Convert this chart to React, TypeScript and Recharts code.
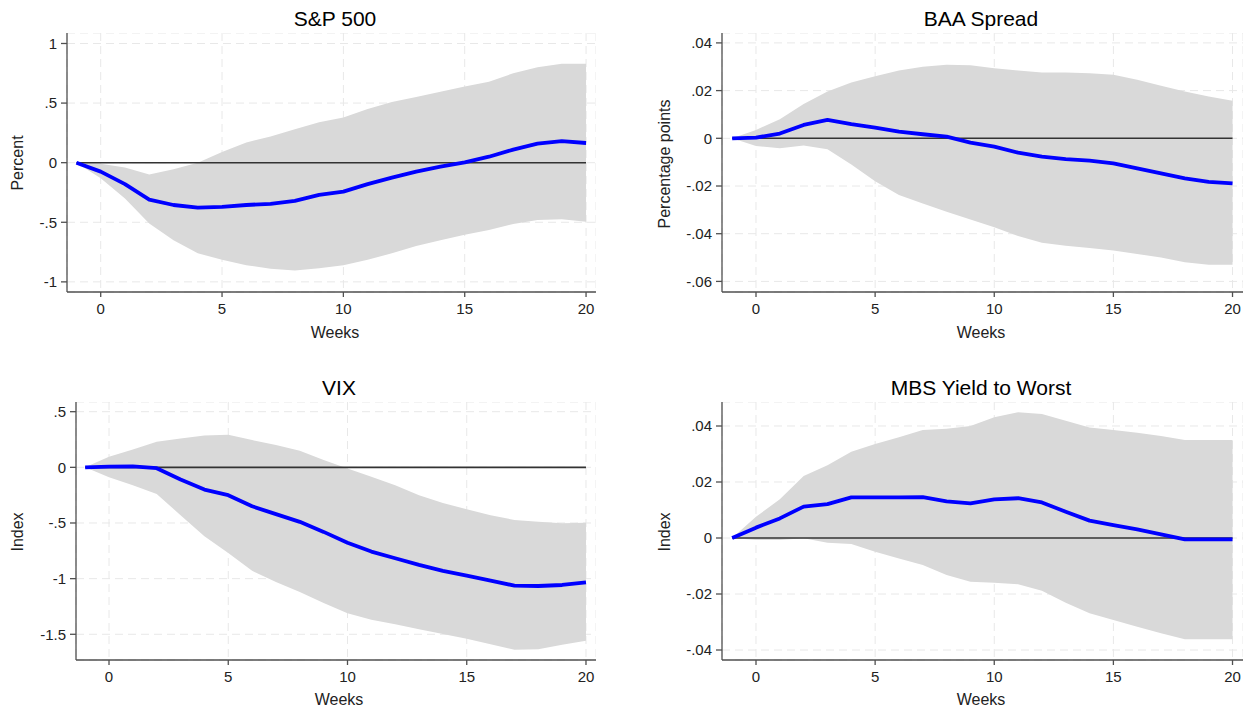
import {
  ComposedChart,
  Area,
  Line,
  XAxis,
  YAxis,
  CartesianGrid,
  ReferenceLine,
} from 'recharts';

const WEEKS = [-1, 0, 1, 2, 3, 4, 5, 6, 7, 8, 9, 10, 11, 12, 13, 14, 15, 16, 17, 18, 19, 20];
const WEEK_TICKS = [0, 5, 10, 15, 20];

const SP500_IRF = [0, -0.075, -0.18, -0.31, -0.355, -0.377, -0.37, -0.355, -0.345, -0.32, -0.27, -0.243, -0.18, -0.126, -0.075, -0.034, 0.003, 0.05, 0.11, 0.16, 0.18, 0.165];
const SP500_HI = [0, -0.01, -0.04, -0.1, -0.055, 0.0, 0.09, 0.17, 0.22, 0.28, 0.34, 0.38, 0.45, 0.51, 0.55, 0.595, 0.64, 0.68, 0.75, 0.8, 0.83, 0.83];
const SP500_LO = [0, -0.13, -0.3, -0.51, -0.65, -0.76, -0.815, -0.86, -0.89, -0.905, -0.885, -0.86, -0.815, -0.76, -0.7, -0.65, -0.605, -0.565, -0.515, -0.48, -0.475, -0.495];
const SP500_TICKS = [-1, -0.5, 0, 0.5, 1];

const BAA_IRF = [0, 0.0003, 0.002, 0.0056, 0.0077, 0.0059, 0.0045, 0.0028, 0.0017, 0.0007, -0.0018, -0.0035, -0.006, -0.0077, -0.0087, -0.0094, -0.0105, -0.0126, -0.0147, -0.0168, -0.0183, -0.0189];
const BAA_HI = [0, 0.0035, 0.008, 0.0144, 0.0196, 0.0234, 0.026, 0.0284, 0.03, 0.0308, 0.0306, 0.0294, 0.0284, 0.0276, 0.0276, 0.0273, 0.0266, 0.0245, 0.022, 0.0196, 0.0175, 0.0157];
const BAA_LO = [0, -0.0032, -0.0042, -0.003, -0.0046, -0.011, -0.018, -0.0238, -0.0273, -0.0308, -0.034, -0.0373, -0.041, -0.0438, -0.045, -0.046, -0.047, -0.0485, -0.05, -0.052, -0.053, -0.053];
const BAA_TICKS = [-0.06, -0.04, -0.02, 0, 0.02, 0.04];

const VIX_IRF = [0, 0.006, 0.009, -0.008, -0.11, -0.2, -0.25, -0.35, -0.42, -0.49, -0.58, -0.677, -0.757, -0.817, -0.877, -0.93, -0.973, -1.018, -1.063, -1.066, -1.057, -1.033];
const VIX_HI = [0, 0.096, 0.16, 0.23, 0.26, 0.287, 0.293, 0.245, 0.2, 0.15, 0.066, -0.01, -0.084, -0.16, -0.25, -0.32, -0.377, -0.43, -0.473, -0.488, -0.503, -0.497];
const VIX_LO = [0, -0.09, -0.16, -0.24, -0.43, -0.62, -0.77, -0.93, -1.03, -1.12, -1.22, -1.31, -1.37, -1.41, -1.455, -1.497, -1.54, -1.59, -1.64, -1.635, -1.595, -1.557];
const VIX_TICKS = [-1.5, -1, -0.5, 0, 0.5];

const MBS_IRF = [0, 0.0037, 0.007, 0.0112, 0.0121, 0.0145, 0.0145, 0.0145, 0.0146, 0.0131, 0.0124, 0.0138, 0.0142, 0.0127, 0.0094, 0.0062, 0.0046, 0.0031, 0.0013, -0.0005, -0.0005, -0.0005];
const MBS_HI = [0, 0.0076, 0.0138, 0.0221, 0.026, 0.0308, 0.0336, 0.036, 0.0386, 0.039, 0.04, 0.0431, 0.0449, 0.0443, 0.0419, 0.0395, 0.0386, 0.0376, 0.0364, 0.035, 0.035, 0.035];
const MBS_LO = [0, -0.0007, -0.0007, -0.0001, -0.0017, -0.0021, -0.0049, -0.0073, -0.0096, -0.0132, -0.0156, -0.016, -0.0165, -0.0188, -0.0231, -0.0269, -0.0293, -0.0317, -0.034, -0.0362, -0.0362, -0.0362];
const MBS_TICKS = [-0.04, -0.02, 0, 0.02, 0.04];

const FONT = '"Liberation Sans", Arial, sans-serif';
const AXIS_COLOR = '#505050';

// stata style labels: .5, -.02 etc
const stataFmt = (v: number) => String(v).replace(/^(-?)0\./, '$1.');

const buildRows = (irf: number[], lo: number[], hi: number[]) =>
  WEEKS.map((w, i) => ({ week: w, irf: irf[i], band: [lo[i], hi[i]] }));

interface PanelProps {
  left: number;
  top: number;
  width: number;
  height: number;
  yAxisWidth: number;
  xDomain: [number, number];
  yDomain: [number, number];
  yTicks: number[];
  irf: number[];
  lo: number[];
  hi: number[];
}

const Panel = ({ left, top, width, height, yAxisWidth, xDomain, yDomain, yTicks, irf, lo, hi }: PanelProps) => {
  const rows = buildRows(irf, lo, hi);
  return (
    <div style={{ position: 'absolute', left, top }}>
      <ComposedChart width={width} height={height} data={rows} margin={{ top: 0, right: 0, bottom: 0, left: 0 }}>
        <CartesianGrid stroke="#e8e8e8" strokeDasharray="8 5" />
        <XAxis
          dataKey="week"
          type="number"
          domain={xDomain}
          ticks={WEEK_TICKS}
          allowDataOverflow
          height={40}
          tickSize={5}
          tickMargin={6}
          stroke={AXIS_COLOR}
          strokeWidth={1.3}
          tick={{ fill: '#222', fontSize: 15, fontFamily: FONT }}
        />
        <YAxis
          type="number"
          domain={yDomain}
          ticks={yTicks}
          allowDataOverflow
          width={yAxisWidth}
          tickSize={6}
          tickMargin={4}
          tickFormatter={stataFmt}
          stroke={AXIS_COLOR}
          strokeWidth={1.3}
          tick={{ fill: '#222', fontSize: 15, fontFamily: FONT }}
        />
        <Area dataKey="band" type="linear" fill="#d9d9d9" fillOpacity={1} stroke="none" isAnimationActive={false} />
        <ReferenceLine
          segment={[{ x: -1, y: 0 }, { x: 20, y: 0 }]}
          stroke="#333"
          strokeWidth={1.6}
        />
        <Line
          dataKey="irf"
          type="linear"
          stroke="#0000ff"
          strokeWidth={3.8}
          strokeLinejoin="round"
          dot={false}
          isAnimationActive={false}
        />
      </ComposedChart>
    </div>
  );
};

export default function App() {
  return (
    <div style={{ position: 'absolute', left: 0, top: 0, width: 1249, height: 711, background: '#fff', fontFamily: FONT }}>
      <Panel
        left={0}
        top={33}
        width={596}
        height={299}
        yAxisWidth={67}
        xDomain={[-1.389, 20.41]}
        yDomain={[-1.085, 1.088]}
        yTicks={SP500_TICKS}
        irf={SP500_IRF}
        lo={SP500_LO}
        hi={SP500_HI}
      />
      <Panel
        left={650}
        top={33}
        width={593}
        height={299}
        yAxisWidth={72}
        xDomain={[-1.427, 20.44]}
        yDomain={[-0.06444, 0.04415]}
        yTicks={BAA_TICKS}
        irf={BAA_IRF}
        lo={BAA_LO}
        hi={BAA_HI}
      />
      <Panel
        left={0}
        top={402}
        width={596}
        height={298}
        yAxisWidth={76}
        xDomain={[-1.384, 20.42]}
        yDomain={[-1.731, 0.587]}
        yTicks={VIX_TICKS}
        irf={VIX_IRF}
        lo={VIX_LO}
        hi={VIX_HI}
      />
      <Panel
        left={650}
        top={402}
        width={593}
        height={298}
        yAxisWidth={72}
        xDomain={[-1.427, 20.44]}
        yDomain={[-0.04357, 0.04857]}
        yTicks={MBS_TICKS}
        irf={MBS_IRF}
        lo={MBS_LO}
        hi={MBS_HI}
      />
      <svg
        width={1249}
        height={711}
        style={{ position: 'absolute', left: 0, top: 0, pointerEvents: 'none' }}
        fontFamily={FONT}
      >
        <text x={335} y={26} textAnchor="middle" fontSize={21} fill="#000">S&amp;P 500</text>
        <text x={981} y={26} textAnchor="middle" fontSize={21} fill="#000">BAA Spread</text>
        <text x={339} y={395} textAnchor="middle" fontSize={21} fill="#000">VIX</text>
        <text x={981} y={395} textAnchor="middle" fontSize={21} fill="#000">MBS Yield to Worst</text>

        <text x={335} y={338} textAnchor="middle" fontSize={16} fill="#222">Weeks</text>
        <text x={981} y={338} textAnchor="middle" fontSize={16} fill="#222">Weeks</text>
        <text x={339} y={705} textAnchor="middle" fontSize={16} fill="#222">Weeks</text>
        <text x={981} y={705} textAnchor="middle" fontSize={16} fill="#222">Weeks</text>

        <text transform="translate(23,163) rotate(-90)" textAnchor="middle" fontSize={16} fill="#222">Percent</text>
        <text transform="translate(670,164) rotate(-90)" textAnchor="middle" fontSize={16} fill="#222">Percentage points</text>
        <text transform="translate(23,532) rotate(-90)" textAnchor="middle" fontSize={16} fill="#222">Index</text>
        <text transform="translate(670,532) rotate(-90)" textAnchor="middle" fontSize={16} fill="#222">Index</text>
      </svg>
    </div>
  );
}
